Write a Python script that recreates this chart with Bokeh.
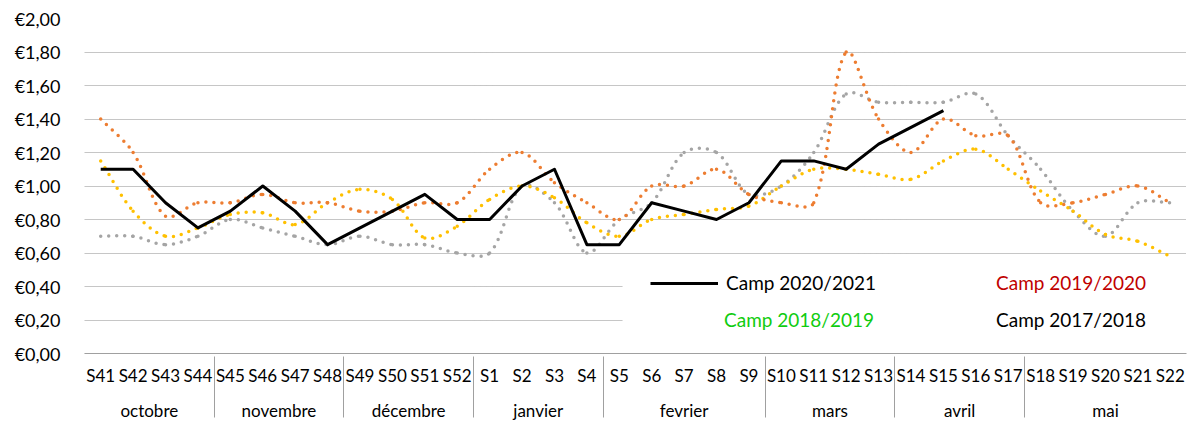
import numpy as np
from bokeh.plotting import figure
from bokeh.models import (FactorRange, Range1d, Legend, LegendItem, BoxAnnotation,
                          CustomJSTickFormatter, FixedTicker, ColumnDataSource)
from bokeh.embed import file_html
from bokeh.resources import INLINE

# ---------------- data ----------------
months = ["octobre", "novembre", "décembre", "janvier", "fevrier", "mars", "avril", "mai"]
weeks_by_month = [
    ["S41", "S42", "S43", "S44"],
    ["S45", "S46", "S47", "S48"],
    ["S49", "S50", "S51", "S52"],
    ["S1", "S2", "S3", "S4"],
    ["S5", "S6", "S7", "S8", "S9"],
    ["S10", "S11", "S12", "S13"],
    ["S14", "S15", "S16", "S17"],
    ["S18", "S19", "S20", "S21", "S22"],
]
y_ticks = [0.0, 0.2, 0.4, 0.6, 0.8, 1.0, 1.2, 1.4, 1.6, 1.8, 2.0]

series_labels = ["Camp 2020/2021", "Camp 2019/2020", "Camp 2018/2019", "Camp 2017/2018"]

camp_2020_2021 = [1.10, 1.10, 0.90, 0.75, 0.85, 1.00, 0.85, 0.65, 0.75, 0.85, 0.95, 0.80,
                  0.80, 1.00, 1.10, 0.65, 0.65, 0.90, 0.85, 0.80, 0.90, 1.15, 1.15, 1.10,
                  1.25, 1.35, 1.45]
camp_2019_2020 = [1.40, 1.20, 0.82, 0.90, 0.90, 0.95, 0.90, 0.90, 0.85, 0.85, 0.90, 0.90,
                  1.10, 1.20, 1.02, 0.90, 0.80, 1.00, 1.00, 1.10, 0.95, 0.90, 0.90, 1.80,
                  1.40, 1.20, 1.40, 1.30, 1.30, 0.90, 0.90, 0.95, 1.00, 0.90]
camp_2018_2019 = [0.70, 0.70, 0.65, 0.70, 0.80, 0.75, 0.70, 0.65, 0.70, 0.65, 0.65, 0.60,
                  0.60, 1.00, 0.90, 0.60, 0.80, 0.90, 1.20, 1.20, 0.95, 1.00, 1.20, 1.55,
                  1.50, 1.50, 1.50, 1.55, 1.30, 1.10, 0.85, 0.70, 0.90, 0.90]
camp_2017_2018 = [1.15, 0.85, 0.70, 0.75, 0.83, 0.84, 0.77, 0.90, 0.98, 0.92, 0.69, 0.76,
                  0.92, 1.00, 0.93, 0.78, 0.70, 0.80, 0.83, 0.86, 0.88, 1.00, 1.10, 1.10,
                  1.07, 1.04, 1.15, 1.22, 1.10, 0.97, 0.85, 0.71, 0.67, 0.58]

# ---------------- styling ----------------
FONT = "Lato"
C_BLACK = "#000000"
C_ORANGE = "#ED7D31"
C_GRAY = "#A5A5A5"
C_YELLOW = "#FFC000"
C_AXIS = "#A0A0A0"

factors = [(m, w) for m, ws in zip(months, weeks_by_month) for w in ws]
n = len(factors)

W, H = 1187, 423
BORDER_L, BORDER_R, BORDER_T = 84, 1, 18

p = figure(width=W, height=H,
           x_range=FactorRange(factors=factors, factor_padding=0, group_padding=0,
                               subgroup_padding=0, range_padding=0),
           y_range=Range1d(0, 2),
           output_backend="svg", toolbar_location=None,
           min_border_left=BORDER_L, min_border_right=BORDER_R, min_border_top=BORDER_T,
           min_border_bottom=0)
p.outline_line_color = None
p.background_fill_color = "white"
p.border_fill_color = "white"

# grid
p.xgrid.grid_line_color = None
p.ygrid.grid_line_color = "#8C8C8C"
p.ygrid.grid_line_dash = "1 1"
p.ygrid.grid_line_width = 1
p.ygrid.ticker = FixedTicker(ticks=y_ticks)

# y axis
p.yaxis.ticker = FixedTicker(ticks=y_ticks)
p.yaxis.formatter = CustomJSTickFormatter(code="return '\u20ac' + tick.toFixed(2).replace('.', ',');")
p.yaxis.axis_line_color = None
p.yaxis.major_tick_line_color = None
p.yaxis.minor_tick_line_color = None
p.yaxis.major_tick_out = 0
p.yaxis.major_label_text_font = FONT
p.yaxis.major_label_text_font_size = "18px"
p.yaxis.major_label_text_color = "#000000"
p.yaxis.major_label_standoff = 24

# x axis
xa = p.xaxis[0]
xa.axis_line_color = C_AXIS
xa.axis_line_width = 1
xa.major_tick_line_color = None
xa.minor_tick_line_color = None
xa.major_tick_out = 0
xa.major_tick_in = 0
xa.major_label_text_font = FONT
xa.major_label_text_font_size = "17px"
xa.major_label_text_color = "#000000"
xa.major_label_standoff = 11
xa.group_text_font = FONT
xa.group_text_font_size = "17px"
xa.group_text_font_style = "normal"
xa.group_text_color = "#000000"
xa.separator_line_color = C_AXIS
xa.separator_line_width = 1

# approximate pixel aspect (used only for the smoothing weights)
PX_X = (W - BORDER_L - BORDER_R) / n
PX_Y = 334 / 2.0


def bezier_source(vals, s=1.0 / 3.0):
    # Excel-like smoothed line: tangent (P2-P0), control distances weighted by segment lengths
    y = np.asarray(vals, dtype=float)
    k = len(y)
    x = np.arange(k) + 0.5          # synthetic coordinates of factor centres
    xp = np.concatenate([[x[0]], x, [x[-1]]])
    yp = np.concatenate([[y[0]], y, [y[-1]]])
    i = np.arange(k - 1)
    P0x, P1x, P2x, P3x = xp[i], xp[i + 1], xp[i + 2], xp[i + 3]
    P0y, P1y, P2y, P3y = yp[i], yp[i + 1], yp[i + 2], yp[i + 3]

    def dist(ax, ay, bx, by):
        return np.hypot((bx - ax) * PX_X, (by - ay) * PX_Y)

    d01 = dist(P0x, P0y, P1x, P1y)
    d12 = dist(P1x, P1y, P2x, P2y)
    d23 = dist(P2x, P2y, P3x, P3y)
    f1 = np.where(d01 + d12 > 0, d12 / np.maximum(d01 + d12, 1e-9), 0.5) * s
    f2 = np.where(d12 + d23 > 0, d12 / np.maximum(d12 + d23, 1e-9), 0.5) * s
    f1 = np.where(d01 == 0, s, f1)
    f2 = np.where(d23 == 0, s, f2)
    return ColumnDataSource(dict(
        x0=P1x, y0=P1y, x1=P2x, y1=P2y,
        cx0=P1x + (P2x - P0x) * f1, cy0=P1y + (P2y - P0y) * f1,
        cx1=P2x - (P3x - P1x) * f2, cy1=P2y - (P3y - P1y) * f2,
    ))


dot_style = dict(line_width=3.5, line_dash="0 8", line_cap="round")

# smoothed dotted series
for vals, col in [(camp_2018_2019, C_GRAY), (camp_2017_2018, C_YELLOW), (camp_2019_2020, C_ORANGE)]:
    p.bezier(x0="x0", y0="y0", x1="x1", y1="y1", cx0="cx0", cy0="cy0", cx1="cx1", cy1="cy1",
             source=bezier_source(vals), line_color=col, **dot_style)

# main series (straight)
main_x = factors[:len(camp_2020_2021)]
r_black = p.line(x=main_x, y=camp_2020_2021, line_color=C_BLACK, line_width=3, line_join="round")

# legend proxies
r_orange = p.line(x=[], y=[], line_color=C_ORANGE, **dot_style)
r_gray = p.line(x=[], y=[], line_color=C_GRAY, **dot_style)
r_yellow = p.line(x=[], y=[], line_color=C_YELLOW, **dot_style)

# white legend area
p.add_layout(BoxAnnotation(left=16.6, right=n, bottom=0.1, top=0.5,
                           fill_color="white", fill_alpha=1.0, line_color=None))

# left edge of the category table under the axis
p.add_layout(BoxAnnotation(left=0, right=0, top=0, bottom=-0.5,
                           fill_alpha=0, line_color=C_AXIS, line_width=1))


def add_legend(renderer, label, color, x, y):
    lg = Legend(items=[LegendItem(label=label, renderers=[renderer])], location=(x, y),
                orientation="horizontal", background_fill_alpha=0, border_line_color=None,
                padding=0, margin=0, spacing=0, glyph_width=68, glyph_height=20,
                label_height=20, label_standoff=8, label_text_font=FONT,
                label_text_font_size="19px", label_text_color=color)
    p.add_layout(lg, "center")


add_legend(r_black, series_labels[0], "#000000", 566, 59)
add_legend(r_orange, series_labels[1], "#C00000", 836, 59)
add_legend(r_gray, series_labels[2], "#10CC10", 564, 22)
add_legend(r_yellow, series_labels[3], "#000000", 836, 22)

open("out.html", "w").write(file_html(p, INLINE))
